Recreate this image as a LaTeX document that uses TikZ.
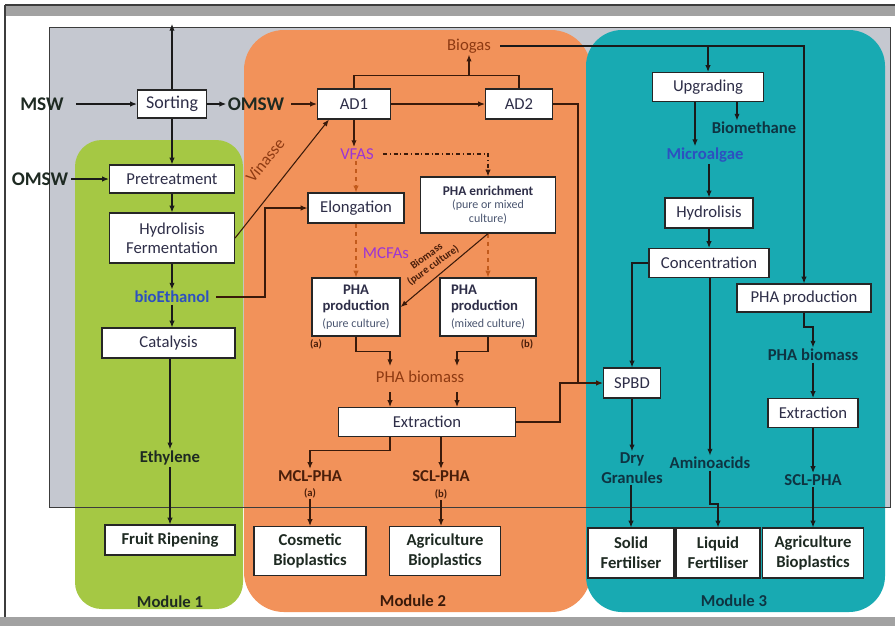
\documentclass[tikz,border=0pt]{standalone}
\usepackage{fontspec}
\setmainfont{Carlito}
\usetikzlibrary{arrows.meta,calc}
\definecolor{bandgrey}{HTML}{A2A2A2}
\definecolor{framedark}{HTML}{3C3C3C}
\definecolor{regiongrey}{HTML}{C5C8D0}
\definecolor{modgreen}{HTML}{A5C844}
\definecolor{modorange}{HTML}{F2925A}
\definecolor{modteal}{HTML}{18AAB2}
\definecolor{tnavy}{HTML}{2E2E48}
\definecolor{tdark}{HTML}{1E2A22}
\definecolor{tblue}{HTML}{2D50C0}
\definecolor{tpurple}{HTML}{9B35D5}
\definecolor{tbrown}{HTML}{4A1E0A}
\definecolor{torange}{HTML}{8E3A12}
\definecolor{tteal}{HTML}{0E3442}
\definecolor{tsmall}{HTML}{4A5570}
\definecolor{lbrown}{HTML}{3A1A0A}
\definecolor{ldash}{HTML}{C25A1C}
\definecolor{ldark}{HTML}{1A1A1A}
\begin{document}
\begin{tikzpicture}[x=0.75pt,y=-0.75pt,
  every node/.style={font=\fontsize{12.5}{14.5}\selectfont, inner sep=1pt, align=center},
  bx/.style 2 args={draw=black!85, fill=white, line width=0.9pt, minimum width=#1*0.75pt, minimum height=#2*0.75pt, inner sep=1pt, text=tnavy},
  bigb/.style={font=\fontsize{14.5}{16}\selectfont\bfseries, text=tdark},
  boldt/.style={font=\fontsize{12.5}{14.5}\selectfont\bfseries},
  smallt/.style={font=\fontsize{8}{9}\selectfont\bfseries, text=tbrown},
  arr/.style={-{Latex[length=5pt,width=4pt]}, line width=0.8pt},
  ln/.style={line width=0.8pt}
]
\useasboundingbox (0,0) rectangle (895,626);
% frame
\fill[white] (0,0) rectangle (895,626);
\fill[bandgrey] (5,5) rectangle (895,16);
\draw[line width=1.2pt, framedark] (5,5) -- (895,5);
\draw[line width=0.8pt, framedark] (5,5) -- (5,617);
\fill[bandgrey] (0,617) rectangle (895,626);
% regions
\fill[regiongrey] (49,27) rectangle (890,507);
\fill[modorange, rounded corners=30pt] (244,30) rectangle (591,612);
\fill[modteal, rounded corners=27pt] (586,30) rectangle (885,612);
\fill[modgreen, rounded corners=20pt] (75,140) rectangle (243,609);
\draw[line width=0.7pt, framedark] (49,27) rectangle (890,507);

% ---------- Module 1 ----------
\node[bx={69}{28}, font=\fontsize{13.5}{15}\selectfont] (sort) at (172,104) {Sorting};
\node[bigb] (msw) at (42,104) {MSW};
\node[bigb] (omswa) at (256,104) {OMSW};
\node[bx={125}{28}] (pre) at (172,179) {Pretreatment};
\node[bigb] (omswb) at (40,179) {OMSW};
\node[bx={125}{50}] (hyd) at (172,238) {Hydrolisis\\Fermentation};
\node[boldt, text=tblue] (bioet) at (172,297) {bioEthanol};
\node[bx={133}{30}] (cat) at (168.5,343) {Catalysis};
\node[boldt, text=tdark] (eth) at (170,458) {Ethylene};
\node[bx={130}{30}, font=\fontsize{12.5}{14.5}\selectfont\bfseries, text=tdark] (fruit) at (170,540) {Fruit Ripening};
\node[boldt, text=tdark] (mod1) at (170,602) {Module 1};
\coordinate (top) at (172,24);

\draw[arr, ldark, shorten <=8pt] (msw.east) -- (sort.west);
\draw[arr, ldark] (sort.east) -- (omswa.west);
\draw[arr, ldark] (sort.north) -- (top);
\draw[arr, ldark] (sort.south) -- (pre.north);
\draw[arr, ldark, shorten <=1pt] (omswb.east) -- (pre.west);
\draw[arr, ldark] (pre.south) -- (hyd.north);
\draw[arr, ldark] (hyd.south) -- (bioet.north);
\draw[arr, ldark] (bioet.south) -- (bioet.south |- cat.north);
\draw[arr, ldark] (cat.south -| eth.north) -- (eth.north);
\draw[arr, ldark] (eth.south) -- (fruit.north);

% ---------- Module 2 ----------
\node[bx={73}{30}] (ad1) at (354,104) {AD1};
\node[bx={67}{30}] (ad2) at (519,104) {AD2};
\node[text=torange] (biogas) at (469,46) {Biogas};
\node[text=tpurple] (vfas) at (357,154) {VFAS};
\node[bx={96}{30}] (elong) at (356,208) {Elongation};
\node[bx={135}{56}, font=\fontsize{10}{11}\selectfont] (enrich) at (488,205)
  {\textbf{PHA enrichment}\\[-1pt]{\fontsize{9}{10}\selectfont\color{tsmall}(pure or mixed}\\[-1pt]{\fontsize{9}{10}\selectfont\color{tsmall}culture)}};
\node[text=tpurple] (mcfas) at (386,253) {MCFAs};
\node[bx={88}{58}, font=\fontsize{11}{12.5}\selectfont\bfseries] (proda) at (356,307)
  {PHA\\production\\{\fontsize{9}{10}\selectfont\mdseries\color{tsmall}(pure culture)}};
\node[bx={96}{58}, font=\fontsize{11}{12.5}\selectfont\bfseries, align=left] (prodb) at (488,307)
  {PHA\\production\\{\fontsize{9}{10}\selectfont\mdseries\color{tsmall}(mixed culture)}};
\node[smallt] (la) at (316,344) {(a)};
\node[smallt] (lb) at (527,344) {(b)};
\node[text=torange] (phabio) at (420,377) {PHA biomass};
\node[bx={177}{29}] (extr) at (427,422) {Extraction};
\node[boldt, text=tbrown] (mcl) at (310,476) {MCL-PHA};
\node[smallt] (mcla) at (310,493) {(a)};
\node[boldt, text=tbrown] (scl) at (441,476) {SCL-PHA};
\node[smallt] (sclb) at (441,494) {(b)};
\node[bx={112}{49}, font=\fontsize{12.5}{15}\selectfont\bfseries, text=tdark] (cosm) at (310,551) {Cosmetic\\Bioplastics};
\node[bx={111}{49}, font=\fontsize{12.5}{15}\selectfont\bfseries, text=tdark] (agri2) at (445,551) {Agriculture\\Bioplastics};
\node[boldt, text=lbrown] (mod2) at (413,601) {Module 2};
\node[rotate=51, text=torange] (vin) at (265,160) {Vinasse};
\node[rotate=36, font=\fontsize{8}{8.5}\selectfont\bfseries, text=tbrown] (biomlab) at (430,261) {Biomass\\(pure culture)};

\coordinate (bj) at (469,76);
\coordinate (elx) at (265,0);
\coordinate (pbl) at (390,366);
\coordinate (pbr) at (457,366);
\coordinate (pbl2) at (390,392);
\coordinate (pbr2) at (457,392);
\coordinate (sj) at (560,383);
\coordinate (sj2) at (578,383);

\draw[arr, lbrown] (hyd.east) -- ($(ad1.south west)+(12,0)$);
\draw[arr, lbrown, shorten <=4pt] (bioet.east) -| (elx |- elong.west) -- (elong.west);
\draw[arr, lbrown, shorten <=4pt] (omswa.east) -- (ad1.west);
\draw[arr, lbrown] (ad1.east) -- (ad2.west);
\draw[ln, lbrown] (ad1.north) -- ++(0,-13) -| (ad2.north);
\draw[arr, lbrown] (bj) -- (biogas.south);
\draw[arr, lbrown] (ad1.south) -- (ad1.south |- vfas.north);
\draw[arr, ldash, dashed] (elong.north |- vfas.south) -- (elong.north);
\draw[arr, lbrown, dash dot, shorten <=6pt] (vfas.east) -| (enrich.north);
\draw[arr, ldash, dashed] (elong.south) -- (proda.north);
\draw[arr, ldash, dashed] (enrich.south) -- (prodb.north);
\draw[arr, lbrown] (enrich.south) -- (proda.east);
\draw[arr, lbrown] (proda.south) -- ++(0,15) -| (pbl);
\draw[arr, lbrown] (prodb.south) -- ++(0,15) -| (pbr);
\draw[arr, lbrown] (pbl2) -- (pbl2 |- extr.north);
\draw[arr, lbrown] (pbr2) -- (pbr2 |- extr.north);
\draw[arr, lbrown] (extr.south -| pbl) -- ++(0,13) -| (mcl.north);
\draw[arr, lbrown] (extr.south -| scl.north) -- (scl.north);
\draw[arr, lbrown] (mcla.south) -- (cosm.north);
\draw[arr, lbrown] (sclb.south) -- (sclb.south |- agri2.north);

% ---------- Module 3 ----------
\node[bx={111}{29}] (upg) at (708,87) {Upgrading};
\node[boldt, text=tteal] (biometh) at (754,128) {Biomethane};
\node[boldt, text=tblue] (micro) at (705,155) {Microalgae};
\node[bx={88}{30}] (hydro3) at (709,213) {Hydrolisis};
\node[bx={120}{29}] (conc) at (709,263) {Concentration};
\node[bx={57}{30}] (spbd) at (632,383) {SPBD};
\node[boldt, text=tteal] (amino) at (710,463) {Aminoacids};
\node[boldt, text=tteal] (dry) at (632,468) {Dry\\Granules};
\node[bx={86}{50}, font=\fontsize{12.5}{15}\selectfont\bfseries, text=tdark] (solid) at (631,553) {Solid\\Fertiliser};
\node[bx={84}{50}, font=\fontsize{12.5}{15}\selectfont\bfseries, text=tdark] (liquid) at (718,553) {Liquid\\Fertiliser};
\node[bx={134}{28}] (prod3) at (804,298) {PHA production};
\node[boldt, text=tteal] (phabio3) at (813,355) {PHA biomass};
\node[bx={90}{29}] (extr3) at (813,413) {Extraction};
\node[boldt, text=tteal] (scl3) at (813,480) {SCL-PHA};
\node[bx={101}{50}, font=\fontsize{12.5}{15}\selectfont\bfseries, text=tdark] (agri3) at (813,553) {Agriculture\\Bioplastics};
\node[boldt, text=tteal] (mod3) at (734,601) {Module 3};

\coordinate (bgu) at (708,45);
\coordinate (bmx) at (737,0);
\coordinate (mix) at (695,0);
\coordinate (aj) at (710,504);
\coordinate (pj) at (804,327);

\draw[arr, ldark, shorten <=6pt] (biogas.east) -| (prod3.north);
\draw[arr, ldark] (bgu) -- (upg.north);
\draw[arr, ldark] (upg.south -| bmx) -- (bmx |- biometh.north);
\draw[arr, ldark] (upg.south -| mix) -- (mix |- micro.north);
\draw[arr, ldark] (micro.south -| hydro3.north) -- (hydro3.north);
\draw[arr, ldark] (hydro3.south) -- (conc.north);
\draw[arr, ldark] (conc.west) -| (spbd.north);
\draw[arr, ldark] (conc.south -| amino.north) -- (amino.north);
\draw[arr, ldark] (spbd.south) -- (dry.north);
\draw[arr, ldark] (dry.south -| solid.north) -- (solid.north);
\draw[arr, ldark] (amino.south) -- (aj) -| (liquid.north);
\draw[arr, ldark] (prod3.south) -- (pj) -| (phabio3.north);
\draw[arr, ldark] (phabio3.south) -- (extr3.north);
\draw[arr, ldark] (extr3.south) -- (scl3.north);
\draw[arr, ldark] (scl3.south) -- (agri3.north);
% cross-module links to SPBD
\draw[arr, lbrown] (extr.east) -| (sj) -- (spbd.west);
\draw[ln, lbrown] (ad2.east) -| (sj2);
\end{tikzpicture}
\end{document}
